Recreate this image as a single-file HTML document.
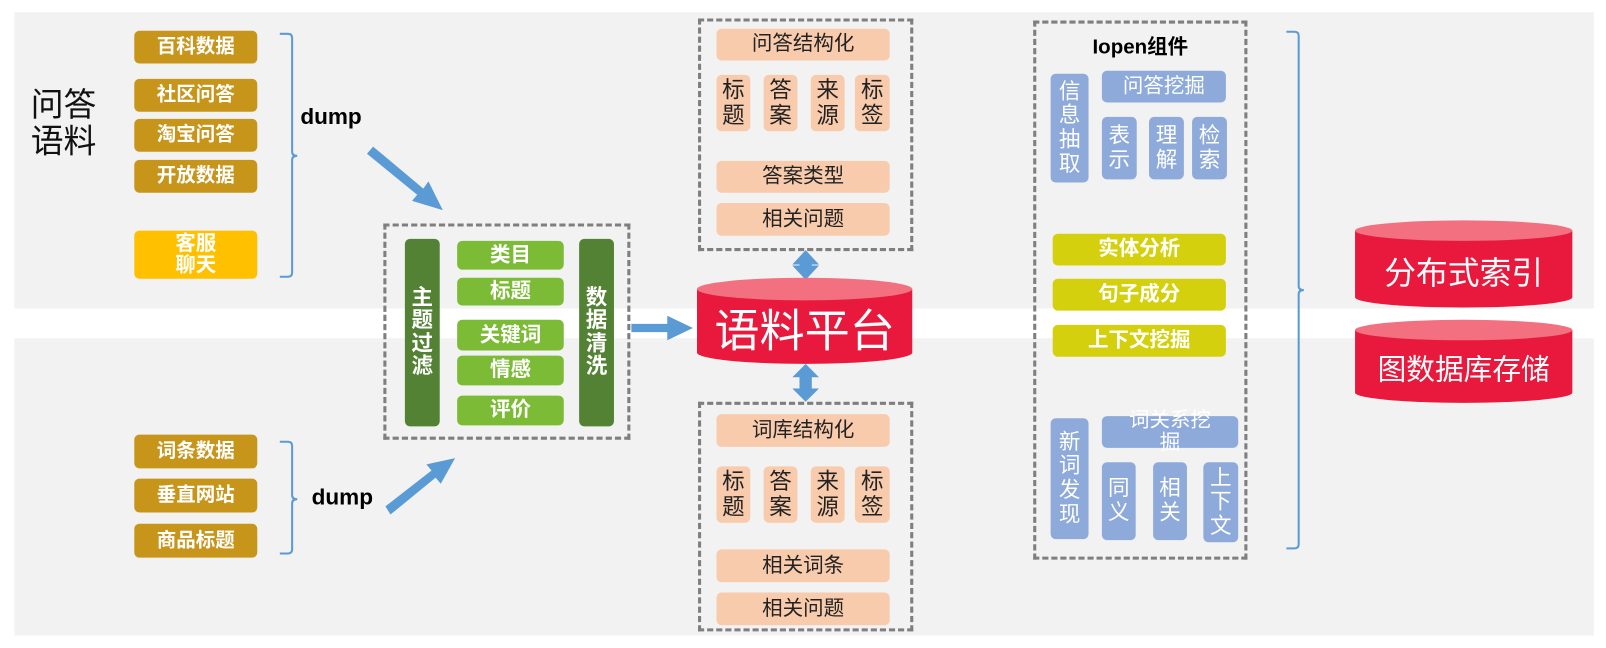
<!DOCTYPE html>
<html><head><meta charset="utf-8"><style>
html,body{margin:0;padding:0;background:#fff;width:1606px;height:648px;overflow:hidden}
#w{position:absolute;left:0;top:0;width:1567px;height:632px;transform:scale(1.025);transform-origin:0 0;font-family:"Liberation Sans","Noto Sans CJK SC",sans-serif}
.a{position:absolute;box-sizing:border-box}
.bx{position:absolute;box-sizing:border-box;border-radius:5px;display:flex;align-items:center;justify-content:center;text-align:center;color:#fff;font-size:19px;line-height:1.05;font-weight:bold}
.g{background:#c8951b}
.dg{background:#548235;font-size:21px}
.lg{background:#7cbb35;font-size:20px}
.pc{background:#f8cbad;color:#222;font-size:20px;font-weight:normal}
.pv{background:#f8cbad;color:#222;font-size:22px;line-height:1.1;font-weight:normal}
.bl{background:#8eaadb;font-size:21px;line-height:1.12;font-weight:normal}
.yl{background:#d5d00e;font-size:20px}
.dash{position:absolute;box-sizing:border-box;border:3px dashed #7f7f7f}
</style></head><body><div id="w">
<div class="a" style="left:14px;top:12px;width:1541px;height:289px;background:#f2f2f2"></div>
<div class="a" style="left:14px;top:330px;width:1541px;height:290px;background:#f2f2f2"></div>

<div class="a" style="left:30px;top:84px;font-size:32px;line-height:36px;color:#111">问答<br>语料</div>
<div class="bx g" style="left:131px;top:30px;width:120px;height:32px">百科数据</div>
<div class="bx g" style="left:131px;top:77px;width:120px;height:32px">社区问答</div>
<div class="bx g" style="left:131px;top:116px;width:120px;height:32px">淘宝问答</div>
<div class="bx g" style="left:131px;top:156px;width:120px;height:32px">开放数据</div>
<div class="bx" style="left:131px;top:225px;width:120px;height:47px;background:#ffc000;font-size:20px">客服<br>聊天</div>
<div class="bx g" style="left:131px;top:424px;width:120px;height:33px">词条数据</div>
<div class="bx g" style="left:131px;top:467px;width:120px;height:33px">垂直网站</div>
<div class="bx g" style="left:131px;top:511px;width:120px;height:33px">商品标题</div>

<svg class="a" style="left:0;top:0" width="1567" height="632">
<g fill="none" stroke="#5b9bd5" stroke-width="2">
<path d="M273 33 h8 q4 0 4 4 v111 q0 4 5 4 q-5 0 -5 4 v110 q0 4 -4 4 h-8"/>
<path d="M273 431 h8 q4 0 4 4 v48 q0 4 5 4 q-5 0 -5 4 v45 q0 4 -4 4 h-8"/>
<path d="M1255 31 h8 q4 0 4 4 v244 q0 4 5 4 q-5 0 -5 4 v244 q0 4 -4 4 h-8"/>
</g>
<g fill="#5b9bd5">
<path d="M358 150 L364 143 L413 184 L418 177 L432 205 L402 196 L407 190 Z"/>
<path d="M376 494 L381 502 L425 466 L430 472 L444 447 L416 453 L421 459 Z"/>
<path d="M616 316 H651 V308 L676 320 L651 332 V324 H616 Z"/>
<path d="M786 244 L799 258 H792 V259 H799 L786 273 L773 259 H780 V258 H773 Z"/>
<path d="M786 355 L799 368 H792 V379 H799 L786 392 L773 379 H780 V368 H773 Z"/>
</g>
<g>
<path d="M680 282 V344 A105 11 0 0 0 890 344 V282 Z" fill="#e8193c"/>
<ellipse cx="785" cy="282" rx="105" ry="11" fill="#f2707f"/>
<path d="M1322 225 V290 A106 10 0 0 0 1534 290 V225 Z" fill="#e8193c"/>
<ellipse cx="1428" cy="225" rx="106" ry="10" fill="#f2707f"/>
<path d="M1322 322 V383 A106 10 0 0 0 1534 383 V322 Z" fill="#e8193c"/>
<ellipse cx="1428" cy="322" rx="106" ry="10" fill="#f2707f"/>
</g>
<text x="785" y="338" font-size="44" fill="#fff" text-anchor="middle" font-family="Liberation Sans,Noto Sans CJK SC,sans-serif">语料平台</text>
<text x="1428" y="277" font-size="31" fill="#fff" text-anchor="middle" font-family="Liberation Sans,Noto Sans CJK SC,sans-serif">分布式索引</text>
<text x="1428" y="370" font-size="28" fill="#fff" text-anchor="middle" font-family="Liberation Sans,Noto Sans CJK SC,sans-serif">图数据库存储</text>
</svg>

<div class="a" style="left:293px;top:101px;font-size:22px;font-weight:bold;color:#000">dump</div>
<div class="a" style="left:304px;top:472px;font-size:22px;font-weight:bold;color:#000">dump</div>

<div class="dash" style="left:374px;top:218px;width:241px;height:211px"></div>
<div class="bx dg" style="left:395px;top:233px;width:34px;height:183px">主<br>题<br>过<br>滤</div>
<div class="bx dg" style="left:565px;top:233px;width:34px;height:183px">数<br>据<br>清<br>洗</div>
<div class="bx lg" style="left:446px;top:235px;width:104px;height:28px">类目</div>
<div class="bx lg" style="left:446px;top:271px;width:104px;height:27px">标题</div>
<div class="bx lg" style="left:446px;top:312px;width:104px;height:30px">关键词</div>
<div class="bx lg" style="left:446px;top:347px;width:104px;height:29px">情感</div>
<div class="bx lg" style="left:446px;top:386px;width:104px;height:29px">评价</div>

<div class="dash" style="left:681px;top:18px;width:210px;height:227px"></div>
<div class="bx pc" style="left:699px;top:28px;width:169px;height:31px">问答结构化</div>
<div class="bx pv" style="left:699px;top:73px;width:33px;height:55px">标<br>题</div>
<div class="bx pv" style="left:745px;top:73px;width:33px;height:55px">答<br>案</div>
<div class="bx pv" style="left:791px;top:73px;width:33px;height:55px">来<br>源</div>
<div class="bx pv" style="left:834px;top:73px;width:34px;height:55px">标<br>签</div>
<div class="bx pc" style="left:699px;top:157px;width:169px;height:31px">答案类型</div>
<div class="bx pc" style="left:699px;top:198px;width:169px;height:32px">相关问题</div>

<div class="dash" style="left:681px;top:392px;width:210px;height:224px"></div>
<div class="bx pc" style="left:699px;top:404px;width:169px;height:32px">词库结构化</div>
<div class="bx pv" style="left:699px;top:455px;width:33px;height:55px">标<br>题</div>
<div class="bx pv" style="left:745px;top:455px;width:33px;height:55px">答<br>案</div>
<div class="bx pv" style="left:791px;top:455px;width:33px;height:55px">来<br>源</div>
<div class="bx pv" style="left:834px;top:455px;width:34px;height:55px">标<br>签</div>
<div class="bx pc" style="left:699px;top:536px;width:169px;height:32px">相关词条</div>
<div class="bx pc" style="left:699px;top:578px;width:169px;height:32px">相关问题</div>

<div class="dash" style="left:1008px;top:20px;width:209px;height:526px"></div>
<div class="a" style="left:1008px;top:29px;width:209px;text-align:center;font-size:20px;font-weight:bold;color:#000">Iopen组件</div>
<div class="bx bl" style="left:1025px;top:72px;width:37px;height:106px">信<br>息<br>抽<br>取</div>
<div class="bx bl" style="left:1075px;top:69px;width:121px;height:31px;font-size:20px">问答挖掘</div>
<div class="bx bl" style="left:1075px;top:114px;width:34px;height:61px">表<br>示</div>
<div class="bx bl" style="left:1121px;top:114px;width:34px;height:61px">理<br>解</div>
<div class="bx bl" style="left:1163px;top:114px;width:34px;height:61px">检<br>索</div>
<div class="bx yl" style="left:1027px;top:228px;width:169px;height:31px">实体分析</div>
<div class="bx yl" style="left:1027px;top:272px;width:169px;height:31px">句子成分</div>
<div class="bx yl" style="left:1027px;top:317px;width:169px;height:31px">上下文挖掘</div>
<div class="bx bl" style="left:1025px;top:408px;width:37px;height:118px">新<br>词<br>发<br>现</div>
<div class="bx bl" style="left:1075px;top:406px;width:133px;height:31px;font-size:20px;align-items:flex-start;line-height:22px;overflow:visible"><span style="margin-top:-7px">词关系挖<br>掘</span></div>
<div class="bx bl" style="left:1075px;top:451px;width:33px;height:76px">同<br>义</div>
<div class="bx bl" style="left:1125px;top:451px;width:33px;height:76px">相<br>关</div>
<div class="bx bl" style="left:1174px;top:451px;width:34px;height:78px">上<br>下<br>文</div>
</div></body></html>
